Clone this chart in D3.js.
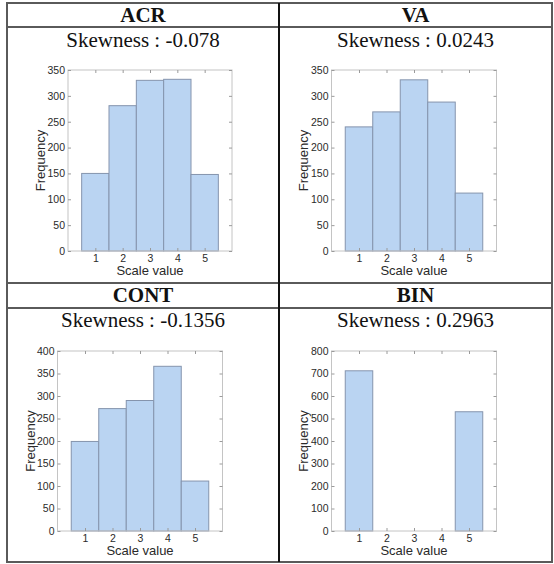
<!DOCTYPE html>
<html>
<head>
<meta charset="utf-8">
<script src="https://cdn.jsdelivr.net/npm/d3@7"></script>
<style>
  body { margin: 0; background: #fff; }
  svg { display: block; }
</style>
</head>
<body>
<script>
var svgWidth = 554;
var svgHeight = 564;

// data
var scaleValues = [1, 2, 3, 4, 5];
var panelNames = ["ACR", "VA", "CONT", "BIN"];
var skewness = ["-0.078", "0.0243", "-0.1356", "0.2963"];
var acrCounts = [150, 281, 330, 332, 148];
var vaCounts = [240, 269, 331, 288, 112];
var contCounts = [199, 272, 290, 366, 111];
var binCounts = [712, 0, 0, 0, 530];
var acrTicks = [0, 50, 100, 150, 200, 250, 300, 350];
var vaTicks = [0, 50, 100, 150, 200, 250, 300, 350];
var contTicks = [0, 50, 100, 150, 200, 250, 300, 350, 400];
var binTicks = [0, 100, 200, 300, 400, 500, 600, 700, 800];

var allCounts = [acrCounts, vaCounts, contCounts, binCounts];
var allTicks = [acrTicks, vaTicks, contTicks, binTicks];

// table grid
var colX = [7, 279, 552];
var rowY = [3, 27, 283, 308, 562];

// plot boxes for each panel
var boxes = [
    {left: 68, top: 70, width: 164, height: 181},
    {left: 331.5, top: 70, width: 165, height: 181},
    {left: 57.5, top: 351, width: 165, height: 180},
    {left: 331.5, top: 351, width: 165, height: 180}
];

var svg = d3.select("body").append("svg")
    .attr("width", svgWidth)
    .attr("height", svgHeight);

svg.append("rect").attr("width", svgWidth).attr("height", svgHeight).attr("fill", "#fff");

// table lines
var table = svg.append("g").attr("stroke", "#5a5a5a").attr("stroke-width", 2);
rowY.forEach(y => {
    table.append("line").attr("x1", colX[0] - 1).attr("x2", colX[2] + 1).attr("y1", y).attr("y2", y);
});
table.append("line").attr("x1", colX[0]).attr("x2", colX[0]).attr("y1", rowY[0]).attr("y2", rowY[4]);
table.append("line").attr("x1", colX[2]).attr("x2", colX[2]).attr("y1", rowY[0]).attr("y2", rowY[4]);
table.append("line").attr("x1", colX[1]).attr("x2", colX[1]).attr("y1", rowY[0]).attr("y2", rowY[4])
    .attr("stroke", "#111");

panelNames.forEach((name, i) => {
    var col = i % 2;
    var row = Math.floor(i / 2);
    var cx = (colX[col] + colX[col + 1]) / 2;
    var headTop = rowY[row * 2];

    // header and skewness caption
    svg.append("text")
        .attr("x", cx).attr("y", headTop + 19)
        .attr("text-anchor", "middle")
        .attr("font-family", "'Liberation Serif', 'Times New Roman', serif")
        .attr("font-weight", "bold")
        .attr("font-size", 21)
        .attr("fill", "#111")
        .text(name);

    svg.append("text")
        .attr("x", cx).attr("y", headTop + 44)
        .attr("text-anchor", "middle")
        .attr("font-family", "'Liberation Serif', 'Times New Roman', serif")
        .attr("font-size", 21)
        .attr("fill", "#111")
        .text("Skewness : " + skewness[i]);

    var b = boxes[i];
    var ticks = allTicks[i];
    var counts = allCounts[i];
    var data = scaleValues.map((v, k) => ({value: v, count: counts[k]}));

    var x = d3.scaleLinear().domain([0, 6]).range([0, b.width]);
    var y = d3.scaleLinear().domain([0, d3.max(ticks)]).range([b.height, 0]);

    var g = svg.append("g").attr("transform", `translate(${b.left}, ${b.top})`);

    // bars
    g.selectAll("rect.bar")
        .data(data.filter(d => d.count > 0))
        .join("rect")
        .attr("class", "bar")
        .attr("x", d => x(d.value - 0.5))
        .attr("width", d => x(d.value + 0.5) - x(d.value - 0.5))
        .attr("y", d => y(d.count))
        .attr("height", d => y(0) - y(d.count))
        .attr("fill", "#bad4f2")
        .attr("stroke", "#8594ad")
        .attr("stroke-width", 1);

    // box
    g.append("rect")
        .attr("width", b.width).attr("height", b.height)
        .attr("fill", "none")
        .attr("stroke", "#c4c4c4");

    // axes
    var xAxis = d3.axisBottom(x).tickValues(scaleValues).tickFormat(d3.format("d")).tickSize(-3).tickPadding(4);
    var yAxis = d3.axisLeft(y).tickValues(ticks).tickFormat(d3.format("d")).tickSize(-3).tickPadding(3);

    g.append("g").attr("transform", `translate(0, ${b.height})`).call(xAxis);
    g.append("g").call(yAxis);
    g.append("g").call(d3.axisTop(x).tickValues(scaleValues).tickSize(-3).tickFormat(""));
    g.append("g").attr("transform", `translate(${b.width}, 0)`)
        .call(d3.axisRight(y).tickValues(ticks).tickSize(-3).tickFormat(""));

    g.selectAll(".domain").remove();
    g.selectAll(".tick line").attr("stroke", "#9a9a9a");
    g.selectAll(".tick text")
        .attr("font-family", "'Liberation Sans', Arial, sans-serif")
        .attr("font-size", 10.5)
        .attr("fill", "#2a2a2a");

    // axis titles
    g.append("text")
        .attr("x", b.width / 2).attr("y", b.height + 24)
        .attr("text-anchor", "middle")
        .attr("font-family", "'Liberation Sans', Arial, sans-serif")
        .attr("font-size", 13)
        .attr("fill", "#2a2a2a")
        .text("Scale value");

    var freqX = i === 2 ? -22.5 : -23.5;
    g.append("text")
        .attr("transform", `translate(${freqX}, ${b.height / 2}) rotate(-90)`)
        .attr("text-anchor", "middle")
        .attr("font-family", "'Liberation Sans', Arial, sans-serif")
        .attr("font-size", 13)
        .attr("fill", "#2a2a2a")
        .text("Frequency");
});
</script>
</body>
</html>
